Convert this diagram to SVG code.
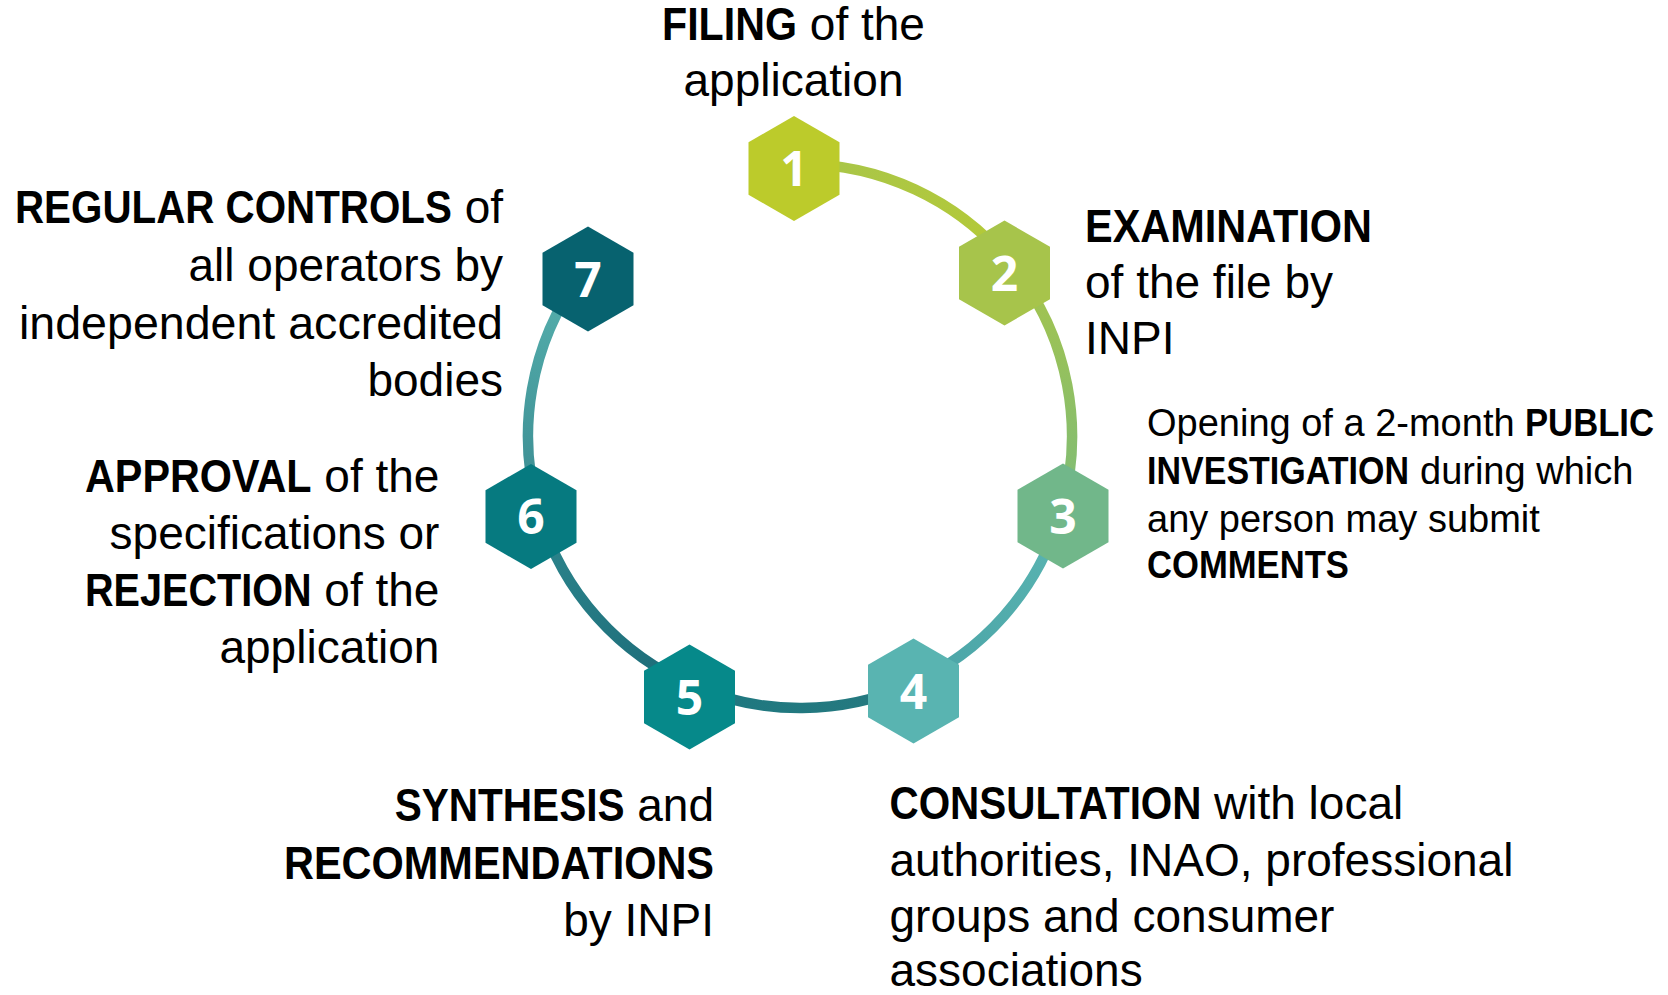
<svg xmlns="http://www.w3.org/2000/svg" width="1668" height="995" viewBox="0 0 1668 995">
<style>
.t{font-family:"Liberation Sans",Arial,sans-serif;font-size:46px;fill:#000}
.s{font-size:38px}
.b{font-weight:bold}
.e{text-anchor:end}
.m{text-anchor:middle}
.n{font-family:"Open Sans","DejaVu Sans",sans-serif;font-weight:bold;font-size:48px;fill:#fff;text-anchor:middle}
.arc{fill:none;stroke-width:10.5}
</style>
<defs>
<polygon id="hex" points="0,-52.5 45.5,-26.25 45.5,26.25 0,52.5 -45.5,26.25 -45.5,-26.25"/>
<linearGradient id="g12" gradientUnits="userSpaceOnUse" x1="793.8" y1="164.1" x2="1012.6" y2="266.3"><stop offset="0" stop-color="#a7c54b"/><stop offset="1" stop-color="#b5ca36"/></linearGradient>
<linearGradient id="g23" gradientUnits="userSpaceOnUse" x1="1012.6" y1="266.3" x2="1060.1" y2="515.5"><stop offset="0" stop-color="#a6c44b"/><stop offset="1" stop-color="#7dbc78"/></linearGradient>
<linearGradient id="g34" gradientUnits="userSpaceOnUse" x1="1060.1" y1="515.5" x2="910.6" y2="684.5"><stop offset="0" stop-color="#5ab5b2"/><stop offset="1" stop-color="#4aa3a6"/></linearGradient>
<linearGradient id="g45" gradientUnits="userSpaceOnUse" x1="910.6" y1="684.5" x2="693.7" y2="686.4"><stop offset="0" stop-color="#26797f"/><stop offset="1" stop-color="#1e7880"/></linearGradient>
<linearGradient id="g56" gradientUnits="userSpaceOnUse" x1="693.7" y1="686.4" x2="539.5" y2="514.2"><stop offset="0" stop-color="#1b6a77"/><stop offset="1" stop-color="#2d868d"/></linearGradient>
<linearGradient id="g67" gradientUnits="userSpaceOnUse" x1="539.5" y1="514.2" x2="581.3" y2="274.2"><stop offset="0" stop-color="#3a8b91"/><stop offset="1" stop-color="#57b1ae"/></linearGradient>
</defs>
<rect width="1668" height="995" fill="#fff"/>
<g id="connectors">
<path class="arc" stroke="url(#g12)" d="M793.8,164.1 A272,272 0 0 1 1012.6,266.3"/>
<path class="arc" stroke="url(#g23)" d="M1012.6,266.3 A272,272 0 0 1 1060.1,515.5"/>
<path class="arc" stroke="url(#g34)" d="M1060.1,515.5 A272,272 0 0 1 910.6,684.5"/>
<path class="arc" stroke="url(#g45)" d="M910.6,684.5 A272,272 0 0 1 693.7,686.4"/>
<path class="arc" stroke="url(#g56)" d="M693.7,686.4 A272,272 0 0 1 539.5,514.2"/>
<path class="arc" stroke="url(#g67)" d="M539.5,514.2 A272,272 0 0 1 581.3,274.2"/>
</g>
<g id="node1">
<use href="#hex" x="794" y="168.5" fill="#bccb2b"/>
<text class="n" x="794" y="186">1</text>
<text class="t b" transform="translate(662,40) scale(0.895,1)" textLength="150.8" lengthAdjust="spacingAndGlyphs">FILING</text>
<text class="t" x="809.8" y="40">of the</text>
<text class="t m" x="793.5" y="96">application</text>
</g>
<g id="node2">
<use href="#hex" x="1004.5" y="273" fill="#a7c44b"/>
<text class="n" x="1004.5" y="290.5">2</text>
<text class="t b" transform="translate(1085,242) scale(0.894,1)" textLength="321" lengthAdjust="spacingAndGlyphs">EXAMINATION</text>
<text class="t" x="1085" y="298">of the file by</text>
<text class="t" x="1085" y="354">INPI</text>
</g>
<g id="node3">
<use href="#hex" x="1063" y="516" fill="#71b78a"/>
<text class="n" x="1063" y="533.5">3</text>
<text class="t s" x="1147" y="436">Opening of a 2-month</text>
<text class="t s b" transform="translate(1525,436) scale(0.912,1)" textLength="141.4" lengthAdjust="spacingAndGlyphs">PUBLIC</text>
<text class="t s b" transform="translate(1147,484) scale(0.898,1)" textLength="291.8" lengthAdjust="spacingAndGlyphs">INVESTIGATION</text>
<text class="t s" x="1420" y="484">during which</text>
<text class="t s" x="1147" y="532">any person may submit</text>
<text class="t s b" transform="translate(1147,578) scale(0.911,1)" textLength="221.7" lengthAdjust="spacingAndGlyphs">COMMENTS</text>
</g>
<g id="node4">
<use href="#hex" x="913.5" y="691" fill="#59b4b1"/>
<text class="n" x="913.5" y="708.5">4</text>
<text class="t b" transform="translate(889.5,819) scale(0.883,1)" textLength="353.3" lengthAdjust="spacingAndGlyphs">CONSULTATION</text>
<text class="t" x="1214" y="819">with local</text>
<text class="t" x="889.5" y="876">authorities, INAO, professional</text>
<text class="t" x="889.5" y="932">groups and consumer</text>
<text class="t" x="889.5" y="986">associations</text>
</g>
<g id="node5">
<use href="#hex" x="689.5" y="697" fill="#06898a"/>
<text class="n" x="689.5" y="714.5">5</text>
<text class="t b" transform="translate(394.7,821) scale(0.8815,1)" textLength="260.7" lengthAdjust="spacingAndGlyphs">SYNTHESIS</text>
<text class="t e" x="714" y="821">and</text>
<text class="t b" transform="translate(284,878.5) scale(0.903,1)" textLength="476.2" lengthAdjust="spacingAndGlyphs">RECOMMENDATIONS</text>
<text class="t e" x="714" y="936">by INPI</text>
</g>
<g id="node6">
<use href="#hex" x="531" y="516.5" fill="#067a80"/>
<text class="n" x="531" y="534">6</text>
<text class="t b" transform="translate(85,491.5) scale(0.899,1)" textLength="251.9" lengthAdjust="spacingAndGlyphs">APPROVAL</text>
<text class="t e" x="439.4" y="491.5">of the</text>
<text class="t e" x="439.4" y="549">specifications or</text>
<text class="t b" transform="translate(85,605.5) scale(0.86,1)" textLength="263.4" lengthAdjust="spacingAndGlyphs">REJECTION</text>
<text class="t e" x="439.4" y="605.5">of the</text>
<text class="t e" x="439.4" y="662.5">application</text>
</g>
<g id="node7">
<use href="#hex" x="588" y="279" fill="#07626f"/>
<text class="n" x="588" y="296.5">7</text>
<text class="t b" transform="translate(15,223.4) scale(0.874,1)" textLength="499.8" lengthAdjust="spacingAndGlyphs">REGULAR CONTROLS</text>
<text class="t e" x="503" y="223.4">of</text>
<text class="t e" x="503" y="281">all operators by</text>
<text class="t e" x="503" y="338.5" textLength="484" lengthAdjust="spacingAndGlyphs">independent accredited</text>
<text class="t e" x="503" y="395.7">bodies</text>
</g>
</svg>
